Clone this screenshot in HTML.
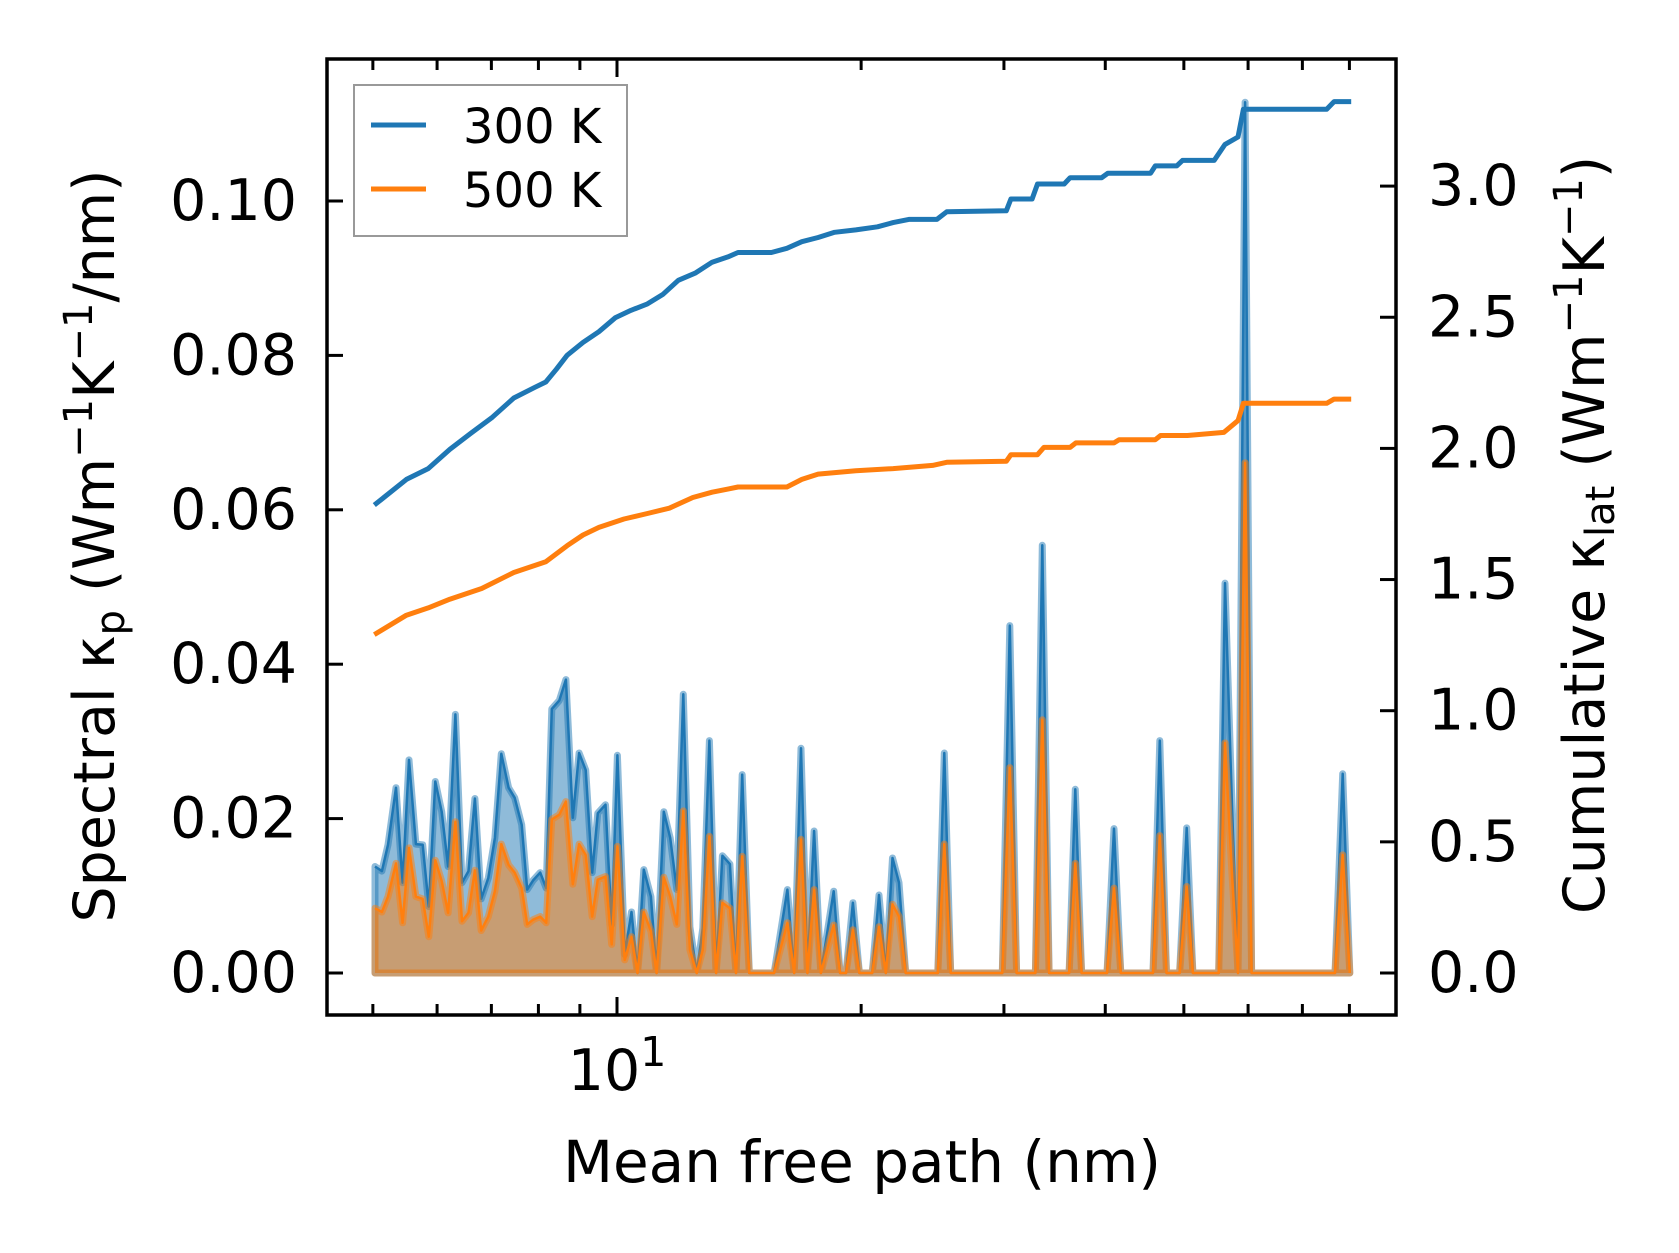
<!DOCTYPE html>
<html><head><meta charset="utf-8"><style>
html,body{margin:0;padding:0;background:#fff}
svg{display:block}
text{font-family:"DejaVu Sans","Liberation Sans",sans-serif;fill:#000}
</style></head><body>
<svg id="chart" width="1679" height="1253" viewBox="0 0 1679 1253" xmlns="http://www.w3.org/2000/svg">
<rect width="1679" height="1253" fill="#fff"/>
<g id="marks"></g>
<g id="axes"></g>
</svg>
<script>
// ---- data ----
const mfp = [
5.03,5.13,5.22,5.34,5.44,5.54,5.65,5.76,5.86,5.97,
6.08,6.19,6.32,6.44,6.56,6.68,6.80,6.94,7.07,7.20,
7.35,7.48,7.63,7.75,7.88,8.04,8.18,8.31,8.49,8.65,
8.82,8.98,9.15,9.32,9.47,9.68,9.85,10.01,10.22,10.42,
10.60,10.79,11.01,11.19,11.42,11.63,11.85,12.07,12.30,12.54,
12.76,13.00,13.25,13.49,13.78,14.02,14.27,14.56,15.62,16.22,
16.54,16.86,17.17,17.50,17.84,18.50,18.84,19.16,19.54,19.90,
20.64,21.04,21.45,21.86,22.27,22.70,24.86,25.33,25.79,29.86,
30.5,31.1,32.8,33.45,34.1,36.1,36.74,37.4,40.2,41.0,
41.8,45.8,46.7,47.6,49.4,50.4,51.3,55.2,56.2,57.3,
58.3,59.5,60.6,76.8,78.5,80.1];
const spec300 = [
.0138,.0132,.0166,.0240,.0117,.0276,.0167,.0166,.0086,.0248,
.0209,.0138,.0335,.0117,.0132,.0226,.0096,.0123,.0175,.0284,
.0240,.0227,.0192,.0108,.0120,.0130,.0110,.0342,.0353,.0380,
.0201,.0285,.0263,.0130,.0207,.0218,.0063,.0282,.0024,.0079,
0,.0134,.0099,0,.0209,.0175,.0108,.0361,.0060,0,
.0058,.0301,0,.0152,.0141,0,.0257,0,0,.0108,
0,.0291,0,.0184,0,.0106,0,0,.0091,0,
0,.0101,0,.0149,.0117,0,0,.0285,0,0,
.0450,0,0,.0554,0,0,.0238,0,0,.0187,
0,0,.0301,0,0,.0188,0,0,.0505,.022,
0,.1128,0,0,.0258,0];
const spec500 = [
.0084,.0079,.0099,.0142,.0065,.0162,.0099,.0096,.0047,.0146,
.0119,.0078,.0196,.0067,.0078,.0133,.0055,.0073,.0106,.0167,
.0140,.0130,.0110,.0063,.0069,.0073,.0065,.0199,.0205,.0222,
.0115,.0167,.0153,.0073,.0121,.0125,.0037,.0164,.0017,.0047,
0,.0079,.0054,0,.0124,.0099,.0063,.0210,.0030,0,
.0030,.0177,0,.0091,.0084,0,.0151,0,0,.0065,
0,.0173,0,.0108,0,.0062,0,0,.0056,0,
0,.0060,0,.0089,.0073,0,0,.0167,0,0,
.0266,0,0,.0328,0,0,.0142,0,0,.0110,
0,0,.0178,0,0,.0112,0,0,.0298,.013,
0,.0661,0,0,.0153,0];
const cumMfp300 = [5.02,5.50,5.85,6.22,6.60,7.02,7.46,7.92,8.17,8.42,8.68,9.08,9.5,9.95,10.4,10.9,11.4,11.9,12.5,13.1,13.7,14.1,15.5,16.2,16.9,17.7,18.55,19.7,20.95,21.9,22.9,24.8,25.5,30.2,30.6,32.5,33.0,35.6,36.2,39.6,40.3,45.5,46.1,49.0,49.8,54.5,56.2,58.3,59.2,75.0,76.6,80.4];
const cum300 = [1.784,1.882,1.923,1.996,2.057,2.119,2.192,2.233,2.253,2.302,2.355,2.404,2.445,2.498,2.526,2.551,2.588,2.641,2.669,2.710,2.730,2.747,2.747,2.763,2.788,2.804,2.824,2.833,2.845,2.861,2.873,2.873,2.902,2.906,2.951,2.951,3.008,3.008,3.032,3.032,3.049,3.049,3.077,3.077,3.098,3.098,3.159,3.187,3.293,3.293,3.322,3.322];
const cumMfp500 = [5.02,5.50,5.85,6.22,6.81,7.46,8.17,8.68,9.08,9.5,10.2,10.9,11.6,12.4,13.1,13.7,14.1,16.2,16.9,17.7,19.7,21.9,24.5,25.5,30.2,30.6,33.0,33.6,36.2,36.8,41.0,41.6,46.1,46.8,50.5,56.0,58.3,59.2,75.0,76.6,80.4];
const cum500 = [1.290,1.364,1.392,1.425,1.466,1.527,1.568,1.629,1.670,1.699,1.731,1.752,1.772,1.813,1.833,1.845,1.853,1.853,1.882,1.902,1.915,1.923,1.935,1.947,1.951,1.976,1.976,2.004,2.004,2.021,2.021,2.033,2.033,2.049,2.049,2.061,2.106,2.172,2.172,2.188,2.188];
const leftTicks = [0,0.02,0.04,0.06,0.08,0.10];
const leftTickLabels = ["0.00","0.02","0.04","0.06","0.08","0.10"];
const rightTicks = [0,0.5,1.0,1.5,2.0,2.5,3.0];
const rightTickLabels = ["0.0","0.5","1.0","1.5","2.0","2.5","3.0"];
const minorX = [5,6,7,8,9,20,30,40,50,60,70,80];

// ---- scales ----
const L=327,R=1396,T=59,B=1015;
const x = m => 617 + 811*(Math.log10(m)-1);
const yL = v => 973 - 7720*v;
const yR = v => 973 - 262.3*v;
const NS='http://www.w3.org/2000/svg';
const marks=document.getElementById('marks'), axes=document.getElementById('axes');
function mk(tag, attrs, parent){const e=document.createElementNS(NS,tag);for(const k in attrs)e.setAttribute(k,attrs[k]);parent.appendChild(e);return e;}

function spectral(vals, rgb, name){
  let top = mfp.map((m,i)=>x(m).toFixed(1)+','+yL(vals[i]).toFixed(1));
  let poly = top.join(' ')+' '+x(mfp[mfp.length-1]).toFixed(1)+','+yL(0)+' '+x(mfp[0]).toFixed(1)+','+yL(0);
  const f=mk('polygon',{points:poly,fill:`rgba(${rgb},0.5)`,stroke:`rgba(${rgb},0.5)`,'stroke-width':7,'stroke-linejoin':'round'},marks);
  
  
  const l=mk('polyline',{points:top.join(' '),fill:'none',stroke:`rgb(${rgb})`,'stroke-width':2.5,'stroke-linejoin':'round'},marks);
  
  
}
spectral(spec300,'31,119,180','spectral-300k');
spectral(spec500,'255,127,14','spectral-500k');

function cum(xs, vs, color, name){
  const pts=xs.map((m,i)=>x(m).toFixed(1)+','+yR(vs[i]).toFixed(1)).join(' ');
  const l=mk('polyline',{points:pts,fill:'none',stroke:color,'stroke-width':5,'stroke-linejoin':'round'},marks);
  
  
}
cum(cumMfp300,cum300,'#1f77b4','cumulative-300k-line');
cum(cumMfp500,cum500,'#ff7f0e','cumulative-500k-line');

// ---- axes ----
const frame=mk('rect',{x:L,y:T,width:R-L,height:B-T,fill:'none',stroke:'#000','stroke-width':3.5},axes);


function tick(x1,y1,x2,y2,name){const t=mk('line',{x1,y1,x2,y2,stroke:'#000','stroke-width':3},axes);
  
  }
tick(x(10),B,x(10),B-18,'x-major-tick');
tick(x(10),T,x(10),T+18,'x-major-tick-top');
minorX.forEach(m=>{tick(x(m),B,x(m),B-11,'x-minor-tick');tick(x(m),T,x(m),T+11,'x-minor-tick-top');});
function label(txt,xx,yy,anchor,name){const t=mk('text',{x:xx,y:yy,'text-anchor':anchor,'font-size':57,'dominant-baseline':'central'},axes);t.textContent=txt;
  
  }
leftTicks.forEach((v,i)=>{tick(L,yL(v),L+16,yL(v),'y-left-tick');label(leftTickLabels[i],297,yL(v),'end','y-left-tick-label');});
rightTicks.forEach((v,i)=>{tick(R,yR(v),R-16,yR(v),'y-right-tick');label(rightTickLabels[i],1428,yR(v),'start','y-right-tick-label');});
</script>
<svg style="position:absolute;left:0;top:0" width="1679" height="1253">
<text x="617" y="1090" text-anchor="middle" font-size="57">10<tspan font-size="41" dy="-24">1</tspan></text>
<text x="862" y="1182" text-anchor="middle" font-size="58">Mean free path (nm)</text>
<text transform="translate(114,546) rotate(-90)" text-anchor="middle" font-size="57">Spectral κ<tspan font-size="40" dy="10">p</tspan><tspan dy="-10"> (Wm</tspan><tspan font-size="40" dy="-22">−1</tspan><tspan dy="22">K</tspan><tspan font-size="40" dy="-22">−1</tspan><tspan dy="22">/nm)</tspan></text>
<text transform="translate(1604,535) rotate(-90)" text-anchor="middle" font-size="57">Cumulative κ<tspan font-size="40" dy="10">lat</tspan><tspan dy="-10"> (Wm</tspan><tspan font-size="40" dy="-22">−1</tspan><tspan dy="22">K</tspan><tspan font-size="40" dy="-22">−1</tspan><tspan dy="22">)</tspan></text>
<g>
<rect x="354" y="85" width="273" height="151" fill="#fff" fill-opacity="0.8" stroke="#999" stroke-width="2"/>
<line x1="371" y1="125" x2="426" y2="125" stroke="#1f77b4" stroke-width="5"/>
<text x="463" y="143" font-size="48">300 K</text>
<line x1="371" y1="189" x2="426" y2="189" stroke="#ff7f0e" stroke-width="5"/>
<text x="463" y="207" font-size="48">500 K</text>
</g>
</svg>
</body></html>
